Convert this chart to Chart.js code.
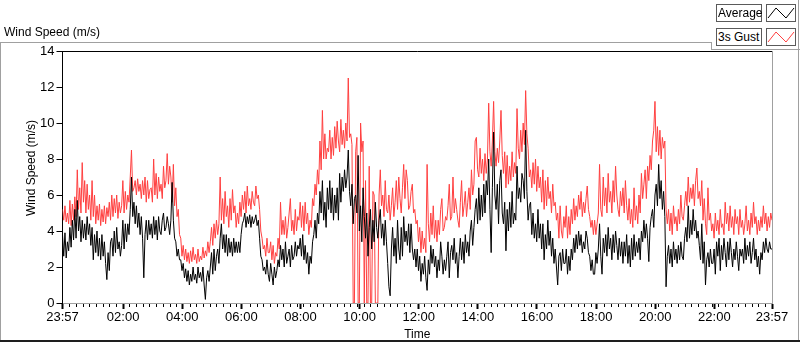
<!DOCTYPE html>
<html>
<head>
<meta charset="utf-8">
<script src="https://cdn.jsdelivr.net/npm/chart.js@4.4.0/dist/chart.umd.min.js"></script>
<style>
  body { margin: 0; background: #fff; }
  #wrap { position: relative; width: 800px; height: 342px; overflow: hidden; font-family: "Liberation Sans", Arial, sans-serif; color: #000; }
  canvas { position: absolute; left: 0; top: 0; }
  .ln { position: absolute; background: #a0a0a0; }
  #title { position: absolute; left: 4px; top: 25px; font-size: 12px; line-height: 14px; white-space: nowrap; }
  .lbox { position: absolute; box-sizing: border-box; height: 18px; border: 1px solid #5a5a5a; background: #fff; font-size: 12px; line-height: 16px; padding-left: 1px; white-space: nowrap; }
  .lbox svg { position: absolute; left: 0; top: 0; }
</style>
</head>
<body>
<div id="wrap">
  <canvas id="windChart" width="800" height="342"></canvas>
  <div id="title">Wind Speed (m/s)</div>
  <div class="ln" style="left:0;top:42px;width:712px;height:1px"></div>
  <div class="ln" style="left:711px;top:42px;width:1px;height:8px"></div>
  <div class="ln" style="left:711px;top:49px;width:89px;height:1px"></div>
  <div class="ln" style="left:798px;top:0;width:1px;height:342px"></div>
  <div class="ln" style="left:0;top:42px;width:1px;height:300px"></div>
  <div class="ln" style="left:0;top:340px;width:800px;height:2px;background:#1e1e1e"></div>
  <div class="lbox" style="left:716px;top:4px;width:46px">Average</div>
  <div class="lbox" style="left:766px;top:4px;width:30px"><svg width="28" height="16"><polyline points="1,13 9,3 19,13 27,3" fill="none" stroke="#000" stroke-width="1"/></svg></div>
  <div class="lbox" style="left:716px;top:28px;width:46px">3s Gust</div>
  <div class="lbox" style="left:766px;top:28px;width:30px"><svg width="28" height="16"><polyline points="1,13 9,3 19,13 27,3" fill="none" stroke="#ff4040" stroke-width="1"/></svg></div>
</div>
<script>
// one sample every 2.5 minutes, starting 23:57 (one row = one hour)
const sampleStep = 2.5;

const gustSpeed = [
  5.2, 4.6, 5.4, 4.5, 5.0, 4.4, 5.7, 4.3, 5.5, 4.6, 5.9, 4.8, 7.4, 5.2, 6.4, 5.0, 7.8, 5.6, 6.8, 5.0, 6.6, 5.2, 6.0, 4.6,
  6.8, 4.8, 6.0, 4.4, 5.4, 4.6, 5.5, 4.3, 5.2, 4.5, 5.4, 4.4, 5.3, 4.8, 5.6, 4.6, 6.0, 4.8, 5.8, 5.0, 6.0, 4.7, 5.6, 5.0,
  5.4, 6.8, 5.0, 6.2, 5.2, 6.0, 5.6, 7.0, 8.5, 6.2, 6.4, 6.8, 6.0, 6.9, 6.2, 6.6, 5.8, 6.8, 6.0, 7.0, 5.6, 6.8, 5.8, 6.3,
  6.4, 5.6, 8.0, 6.0, 7.2, 5.8, 7.0, 6.2, 6.6, 5.8, 7.6, 6.4, 6.8, 8.3, 6.6, 7.6, 7.0, 5.6, 7.7, 5.4, 6.4, 4.8, 5.2, 3.8,
  3.6, 2.6, 3.2, 2.4, 3.0, 2.3, 2.8, 2.2, 2.9, 2.3, 3.1, 2.4, 2.7, 2.2, 3.0, 2.3, 2.6, 2.4, 3.1, 2.5, 2.9, 2.6, 3.4, 2.8,
  3.4, 4.2, 3.2, 4.4, 3.6, 4.6, 3.8, 4.4, 7.0, 4.6, 5.8, 4.4, 6.2, 4.8, 5.4, 4.2, 5.8, 4.6, 6.3, 5.0, 5.4, 4.2, 5.0, 4.4,
  5.6, 4.8, 6.0, 5.2, 6.2, 5.0, 6.5, 5.4, 5.8, 5.2, 6.2, 5.6, 5.4, 6.5, 5.8, 6.0, 5.2, 4.0, 3.6, 3.0, 3.2, 2.6, 3.6, 2.8,
  2.8, 3.4, 2.4, 3.2, 2.2, 2.8, 2.6, 3.6, 3.0, 5.6, 3.8, 4.6, 3.8, 4.8, 3.6, 4.2, 5.0, 5.8, 4.0, 4.6, 3.8, 5.2, 4.0, 4.8,
  4.6, 5.6, 4.2, 5.4, 4.0, 5.6, 4.4, 5.0, 3.8, 4.6, 4.2, 5.8, 5.4, 6.6, 6.0, 7.4, 6.6, 9.0, 7.4, 10.7, 8.0, 9.4, 8.0, 8.6,
  8.4, 9.6, 8.0, 9.2, 8.2, 9.8, 8.6, 10.1, 9.0, 8.4, 10.2, 8.8, 9.6, 8.6, 10.0, 9.0, 12.5, 9.2, 9.4, 8.8, 0, 0, 8.4, 9.2,
  0, 0, 10.0, 8.4, 9.0, 0, 6.8, 0, 0, 7.6, 0, 0, 6.2, 6.0, 0, 0, 0, 6.0, 7.4, 5.4, 6.0, 4.8, 6.8, 5.2,
  5.0, 6.0, 4.6, 5.4, 6.4, 4.8, 5.6, 6.8, 5.2, 7.0, 5.8, 5.0, 6.4, 7.7, 5.8, 7.4, 6.8, 5.2, 5.4, 6.2, 6.6, 5.0, 5.2, 4.4,
  4.6, 3.4, 4.2, 2.8, 4.0, 3.0, 3.6, 2.8, 7.7, 4.4, 3.4, 5.0, 3.8, 5.4, 3.6, 4.6, 3.4, 4.6, 3.8, 5.2, 5.8, 4.0, 4.2, 4.8,
  4.6, 5.4, 6.6, 4.6, 4.8, 7.0, 5.0, 5.8, 5.2, 4.6, 4.2, 5.6, 6.8, 4.8, 5.4, 6.2, 4.8, 5.6, 6.4, 5.2, 7.4, 6.0, 6.6, 9.0,
  9.2, 7.4, 7.0, 8.6, 7.2, 8.0, 6.8, 8.3, 7.2, 8.0, 11.1, 8.4, 7.6, 9.0, 11.2, 8.4, 7.6, 8.6, 7.8, 9.0, 10.7, 8.2, 7.2, 8.4,
  6.4, 8.2, 6.6, 7.6, 6.8, 8.4, 7.0, 7.8, 7.2, 10.8, 8.6, 8.0, 9.6, 8.4, 10.0, 8.8, 11.8, 9.4, 8.6, 7.0, 7.4, 6.4, 7.8, 6.6,
  8.0, 6.2, 7.6, 6.4, 7.0, 5.6, 7.4, 5.2, 6.8, 5.4, 7.0, 5.8, 6.2, 5.0, 6.6, 5.4, 5.6, 4.6, 5.0, 3.6, 5.4, 4.0, 3.6, 4.8,
  4.2, 5.4, 3.6, 4.8, 3.8, 5.2, 4.4, 5.8, 4.6, 5.4, 4.8, 6.0, 5.2, 6.2, 4.8, 5.6, 5.0, 5.8, 6.5, 5.2, 4.8, 4.2, 4.6, 3.8,
  4.6, 3.8, 4.4, 5.0, 7.7, 5.2, 4.8, 7.0, 5.4, 6.4, 5.0, 7.2, 5.6, 6.2, 5.0, 6.8, 5.6, 7.6, 6.0, 5.2, 4.8, 6.2, 5.4, 6.4,
  5.0, 6.8, 5.4, 4.6, 5.8, 4.4, 5.2, 4.2, 6.4, 4.6, 5.4, 4.4, 6.0, 5.0, 7.2, 5.8, 6.6, 7.4, 5.8, 7.6, 6.8, 8.2, 7.4, 9.0,
  9.6, 11.2, 8.4, 9.8, 8.2, 9.6, 8.0, 9.2, 8.6, 9.0, 5.2, 4.4, 5.2, 4.0, 5.0, 3.8, 5.4, 4.4, 4.8, 4.0, 5.2, 4.4, 6.0, 4.8,
  4.6, 5.4, 6.2, 5.4, 7.0, 5.6, 6.4, 5.8, 6.6, 5.4, 6.8, 7.5, 5.8, 6.2, 5.4, 6.8, 4.6, 5.8, 4.4, 3.8, 6.4, 4.6, 5.0, 4.0,
  4.4, 3.6, 5.0, 4.0, 4.6, 3.8, 5.2, 4.2, 4.4, 3.8, 5.6, 4.4, 5.0, 4.0, 5.4, 4.2, 4.8, 3.8, 5.2, 4.4, 4.8, 3.8, 5.2, 4.2,
  4.6, 3.8, 4.4, 5.4, 4.0, 4.6, 3.8, 5.0, 4.2, 5.6, 4.4, 4.8, 3.8, 4.6, 4.0, 4.8, 4.2, 5.4, 4.4, 5.0, 4.0, 4.8, 4.2, 5.0, 4.6
];

const avgSpeed = [
  3.8, 2.6, 3.9, 2.5, 3.4, 2.9, 4.2, 3.1, 4.6, 3.5, 5.2, 3.6, 5.7, 4.0, 4.8, 3.4, 4.6, 3.6, 4.4, 3.5, 4.8, 3.8, 4.4, 3.2,
  4.2, 2.4, 3.8, 2.8, 4.0, 2.6, 3.6, 2.4, 3.8, 2.6, 3.4, 2.2, 1.3, 2.8, 1.8, 3.4, 3.6, 2.6, 4.0, 2.8, 4.2, 3.0, 3.4, 2.6,
  3.2, 4.6, 3.0, 4.4, 3.4, 4.4, 3.8, 5.2, 7.0, 4.8, 5.6, 4.4, 5.4, 4.2, 5.0, 3.8, 4.8, 3.6, 1.4, 3.8, 4.6, 3.5, 4.6, 3.8,
  4.4, 3.6, 4.8, 3.8, 4.6, 3.5, 4.8, 4.0, 3.8, 4.6, 5.0, 4.0, 4.2, 4.8, 4.4, 3.8, 4.6, 6.7, 4.6, 3.6, 3.4, 2.6, 3.0, 2.4,
  2.4, 1.8, 2.2, 1.4, 1.9, 1.2, 1.8, 1.0, 1.6, 1.2, 2.0, 1.3, 1.6, 1.1, 2.0, 1.4, 1.7, 1.2, 2.0, 1.0, 0.2, 1.4, 1.8, 1.2,
  2.0, 2.8, 1.6, 3.0, 1.8, 2.6, 3.0, 2.2, 3.6, 4.4, 3.0, 3.8, 2.8, 3.8, 2.6, 3.6, 2.8, 3.4, 2.6, 3.6, 2.8, 3.4, 2.8, 3.4,
  2.8, 3.8, 4.4, 4.6, 5.0, 4.2, 4.8, 4.4, 4.9, 4.2, 4.8, 4.4, 4.6, 4.9, 4.3, 4.6, 3.6, 2.6, 2.4, 1.8, 2.0, 1.6, 2.4, 1.6,
  1.2, 2.2, 1.6, 1.0, 2.0, 1.4, 1.8, 2.4, 2.0, 3.2, 2.4, 3.0, 2.0, 3.4, 2.2, 2.6, 3.0, 2.0, 3.2, 2.4, 2.6, 3.4, 2.6, 3.2,
  3.0, 3.6, 2.6, 3.8, 2.4, 3.2, 2.2, 2.8, 1.6, 2.6, 2.2, 3.4, 3.8, 4.6, 3.6, 5.0, 4.4, 6.2, 5.0, 6.8, 4.6, 5.6, 4.2, 6.4,
  5.2, 6.8, 5.0, 6.4, 4.6, 6.0, 5.0, 6.4, 4.6, 7.2, 5.6, 7.0, 6.2, 7.4, 6.4, 7.0, 8.5, 6.2, 5.4, 6.6, 4.4, 5.8, 6.0, 5.0,
  8.2, 4.0, 5.4, 3.4, 6.4, 4.8, 3.6, 5.0, 2.6, 4.2, 5.2, 3.0, 4.6, 3.4, 5.6, 4.2, 3.6, 4.6, 5.2, 3.6, 4.4, 3.2, 4.6, 3.4,
  2.2, 0.9, 0.4, 3.0, 4.2, 2.6, 3.6, 2.2, 4.6, 3.0, 2.4, 4.2, 2.6, 4.8, 3.4, 4.0, 3.2, 4.4, 2.8, 4.4, 3.0, 2.4, 3.0, 2.0,
  3.0, 1.8, 2.6, 1.2, 2.2, 1.6, 2.6, 1.4, 0.7, 2.4, 1.6, 3.2, 2.2, 3.0, 2.0, 2.6, 1.4, 2.4, 1.8, 3.4, 2.6, 1.6, 2.4, 1.8,
  2.6, 3.4, 1.4, 2.8, 3.2, 2.4, 3.6, 2.2, 2.8, 1.4, 2.6, 3.6, 2.4, 3.4, 2.2, 3.8, 2.8, 3.4, 2.6, 4.0, 4.6, 3.2, 4.2, 5.2,
  5.8, 4.4, 6.4, 4.6, 6.0, 4.8, 6.6, 5.0, 6.8, 6.0, 8.0, 5.2, 2.8, 6.4, 9.5, 6.0, 5.2, 6.6, 4.4, 6.8, 7.4, 5.0, 4.4, 5.6,
  2.9, 5.2, 4.0, 5.6, 4.2, 6.2, 4.4, 5.0, 4.6, 7.6, 5.8, 6.4, 5.6, 7.2, 6.8, 5.8, 9.6, 6.2, 4.6, 5.4, 5.6, 3.8, 5.0, 3.6,
  4.4, 3.4, 5.2, 3.6, 4.4, 3.0, 4.4, 2.4, 3.8, 3.0, 4.6, 3.2, 4.0, 2.6, 3.6, 2.2, 3.0, 2.0, 1.0, 2.6, 2.8, 1.8, 3.0, 2.2,
  2.2, 3.0, 1.6, 2.6, 1.8, 3.0, 2.4, 3.6, 2.8, 3.8, 3.0, 4.0, 3.2, 3.8, 2.8, 3.4, 3.0, 4.0, 3.6, 2.8, 2.6, 1.8, 2.4, 1.6,
  1.6, 2.8, 2.2, 3.0, 4.4, 2.6, 1.6, 3.6, 2.8, 3.8, 2.6, 4.2, 3.0, 3.6, 2.4, 3.8, 2.8, 4.0, 3.2, 2.4, 3.6, 2.6, 3.4, 2.2,
  3.4, 2.6, 3.8, 2.2, 3.2, 2.0, 3.6, 2.4, 3.8, 2.6, 3.4, 2.8, 3.6, 2.4, 4.0, 3.4, 4.6, 3.6, 4.4, 3.6, 2.3, 4.2, 4.8, 5.2,
  4.2, 6.0, 6.6, 5.4, 7.7, 5.8, 6.8, 5.2, 6.2, 4.8, 0.9, 2.6, 3.2, 2.2, 3.0, 2.0, 3.4, 2.4, 3.0, 2.2, 3.2, 2.4, 3.4, 2.6,
  2.4, 3.6, 4.2, 3.4, 5.4, 3.6, 4.6, 3.8, 5.2, 4.0, 4.6, 3.6, 4.0, 3.2, 2.4, 4.4, 2.2, 3.4, 1.0, 2.4, 2.8, 2.0, 3.0, 2.2,
  2.2, 3.0, 1.6, 3.4, 2.6, 3.6, 1.8, 3.2, 2.4, 3.6, 2.8, 2.0, 3.4, 2.4, 3.6, 2.8, 2.0, 3.0, 2.4, 3.4, 2.6, 1.8, 3.0, 2.6,
  3.0, 2.2, 3.6, 2.4, 3.2, 2.6, 3.4, 2.2, 2.8, 3.6, 2.4, 3.0, 2.0, 2.6, 1.6, 2.8, 2.4, 3.4, 2.8, 3.6, 3.0, 2.8, 3.4, 3.0, 3.0
];

// minutes after 23:57 for each labelled tick
const tickMinutes = [0, 123, 243, 363, 483, 603, 723, 843, 963, 1083, 1203, 1323, 1440];
const tickLabels = ["23:57", "02:00", "04:00", "06:00", "08:00", "10:00", "12:00",
                    "14:00", "16:00", "18:00", "20:00", "22:00", "23:57"];
const minorStep = 13.58;

const tickFont = { family: "'Liberation Sans Narrow', 'Liberation Sans', sans-serif", size: 13 };
const textFont = { family: "'Liberation Sans', Arial, sans-serif", size: 12 };

// frame edges, minor ticks and rotated y title
const chartFrame = {
  id: "chartFrame",
  afterDraw(chart) {
    const { ctx, chartArea: a, scales: { x } } = chart;
    ctx.save();
    ctx.lineWidth = 1;
    ctx.strokeStyle = "#000";
    ctx.beginPath();
    ctx.moveTo(a.left, Math.round(a.top) + 0.5);
    ctx.lineTo(a.right, Math.round(a.top) + 0.5);
    ctx.stroke();
    ctx.strokeStyle = "#a0a0a0";
    ctx.beginPath();
    ctx.moveTo(Math.round(a.right) + 0.5, a.top);
    ctx.lineTo(Math.round(a.right) + 0.5, a.bottom);
    ctx.stroke();

    ctx.strokeStyle = "#000";
    ctx.beginPath();
    for (let m = minorStep; m < 1440; m += minorStep) {
      if (tickMinutes.some(t => Math.abs(t - m) < 4)) continue;
      const px = Math.round(x.getPixelForValue(m)) + 0.5;
      ctx.moveTo(px, a.bottom + 1);
      ctx.lineTo(px, a.bottom + 4);
    }
    ctx.stroke();

    ctx.fillStyle = "#000";
    ctx.font = "12px 'Liberation Sans', Arial, sans-serif";
    ctx.translate(32, 168);
    ctx.rotate(-Math.PI / 2);
    ctx.textAlign = "center";
    ctx.textBaseline = "middle";
    ctx.fillText("Wind Speed (m/s)", 0, 0);
    ctx.restore();
  }
};

new Chart(document.getElementById("windChart"), {
  type: "line",
  data: {
    datasets: [
      { label: "Average", data: avgSpeed.map((v, i) => ({ x: i * sampleStep, y: v })),
        borderColor: "#000", borderWidth: 1, pointRadius: 0, tension: 0 },
      { label: "3s Gust", data: gustSpeed.map((v, i) => ({ x: i * sampleStep, y: v })),
        borderColor: "#ff4040", borderWidth: 1, pointRadius: 0, tension: 0 }
    ]
  },
  options: {
    responsive: false, animation: false, devicePixelRatio: 1,
    layout: { padding: { left: 0, top: 51, right: 28, bottom: 0 } },
    plugins: { legend: { display: false }, tooltip: { enabled: false } },
    scales: {
      x: {
        type: "linear", min: 0, max: 1440,
        afterBuildTicks: s => { s.ticks = tickMinutes.map(v => ({ value: v })); },
        afterFit: s => { s.height = 39; },
        ticks: { autoSkip: false, maxRotation: 0, padding: 1, color: "#000", font: tickFont,
                 callback: (v, i) => tickLabels[i] },
        grid: { drawOnChartArea: false, drawTicks: true, tickLength: 6, tickWidth: 2, tickColor: "#000" },
        border: { color: "#a0a0a0" },
        title: { display: true, text: "Time", color: "#000", font: textFont, padding: 0 }
      },
      y: {
        min: 0, max: 14,
        afterFit: s => { s.width = 62.5; },
        ticks: { stepSize: 2, padding: 2, color: "#000", font: tickFont },
        grid: { drawOnChartArea: false, drawTicks: true, tickLength: 6, tickColor: "#000" },
        border: { color: "#000" }
      }
    }
  },
  plugins: [chartFrame]
});
</script>
</body>
</html>
